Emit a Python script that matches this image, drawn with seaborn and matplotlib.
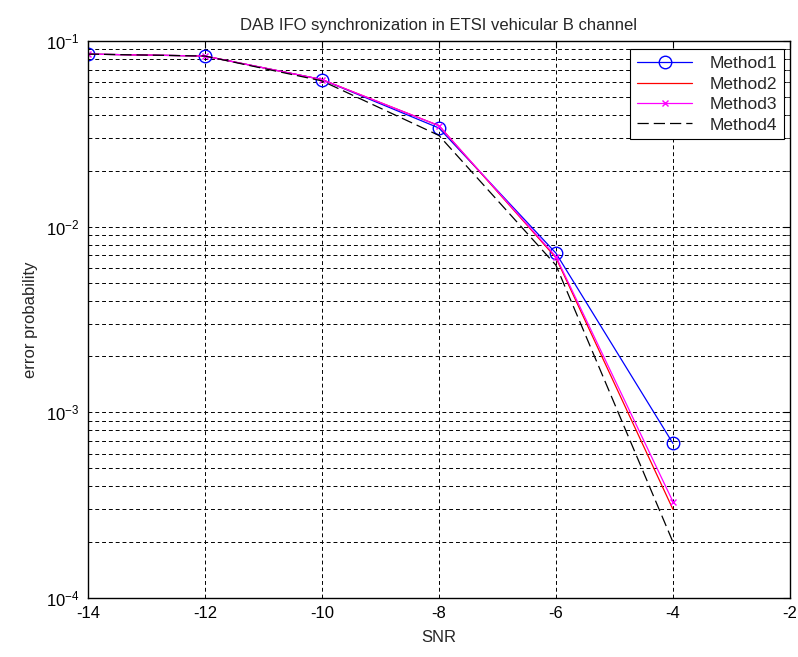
import matplotlib
matplotlib.use("Agg")
import matplotlib.pyplot as plt
import seaborn as sns
import numpy as np
import pandas as pd
from matplotlib.ticker import LogLocator

# SNR points (dB) and IFO error probability for each method
snr = [-14, -12, -10, -8, -6, -4]
method1 = [0.085, 0.083, 0.062, 0.034, 0.0072, 0.00068]
method2 = [0.085, 0.083, 0.062, 0.035, 0.0068, 0.00030]
method3 = [0.085, 0.083, 0.062, 0.035, 0.0069, 0.00033]
method4 = [0.085, 0.083, 0.061, 0.031, 0.0062, 0.00020]

series_names = ["Method1", "Method2", "Method3", "Method4"]
xticks = [-14, -12, -10, -8, -6, -4, -2]

sns.set_style("white")
plt.rcParams["font.family"] = ["Liberation Sans", "DejaVu Sans"]
plt.rcParams["mathtext.fontset"] = "custom"
plt.rcParams["mathtext.rm"] = "Liberation Sans"
plt.rcParams["mathtext.it"] = "Liberation Sans"

fig = plt.figure(figsize=(7.98, 6.57), dpi=100)
ax = fig.add_axes([0.110, 0.0898, 0.880, 0.8478])

colors = {"Method1": "#0000ff", "Method2": "#ff0000",
          "Method3": "#ff00ff", "Method4": "black"}
line_styles = {"Method1": "-", "Method2": "-", "Method3": "-",
               "Method4": (0, (9, 4))}
marker_styles = {
    "Method1": dict(marker="o", markersize=9, markerfacecolor="none",
                    markeredgecolor="#0000ff", markeredgewidth=1.0),
    "Method2": dict(marker="None"),
    "Method3": dict(marker="x", markersize=5, markeredgecolor="#ff00ff",
                    markeredgewidth=1.0),
    "Method4": dict(marker="None"),
}

handles = []
for name, vals in zip(series_names, [method1, method2, method3, method4]):
    df = pd.DataFrame({"SNR": snr, "p": vals})
    n_before = len(ax.lines)
    sns.lineplot(data=df, x="SNR", y="p", ax=ax, color=colors[name],
                 linewidth=0.9, legend=False)
    line = ax.lines[n_before]
    line.set_linestyle(line_styles[name])
    line.set_label(name)
    for k, v in marker_styles[name].items():
        getattr(line, "set_" + k)(v)
    handles.append(line)

ax.set_yscale("log")
ax.set_xlim(-14, -2)
ax.set_ylim(1e-4, 1e-1)
ax.set_xticks(xticks)
ax.set_xticklabels([str(t) for t in xticks])
ax.yaxis.set_major_locator(LogLocator(base=10, numticks=10))
ax.yaxis.set_minor_locator(LogLocator(base=10, subs=np.arange(2, 10), numticks=20))

grid_kw = dict(color="black", linestyle=(0, (4, 3)), linewidth=0.7)
ax.grid(True, which="major", axis="both", **grid_kw)
ax.grid(True, which="minor", axis="y", **grid_kw)

ax.tick_params(which="major", direction="in", length=5, width=0.8, top=True, right=True,
               labelsize=12, pad=6, colors="black")
ax.tick_params(which="minor", direction="in", length=3, width=0.6, right=True,
               labelleft=False)
ax.set_xlabel("SNR", fontsize=12, labelpad=6)
ax.set_ylabel("error probability", fontsize=12, labelpad=6)
for s in ax.spines.values():
    s.set_color("black")
    s.set_linewidth(1.0)

ax.set_title("DAB IFO synchronization in ETSI vehicular B channel", fontsize=12, pad=8)

leg = ax.legend(handles=handles, loc="upper right", bbox_to_anchor=(0.992, 0.985),
                fontsize=12.5, frameon=True, fancybox=False, framealpha=1,
                edgecolor="black", borderaxespad=0.0, handlelength=3.2,
                labelspacing=0.3, borderpad=0.4, handletextpad=1.0)
leg.get_frame().set_linewidth(0.8)

fig.savefig("out.png", dpi=100)
